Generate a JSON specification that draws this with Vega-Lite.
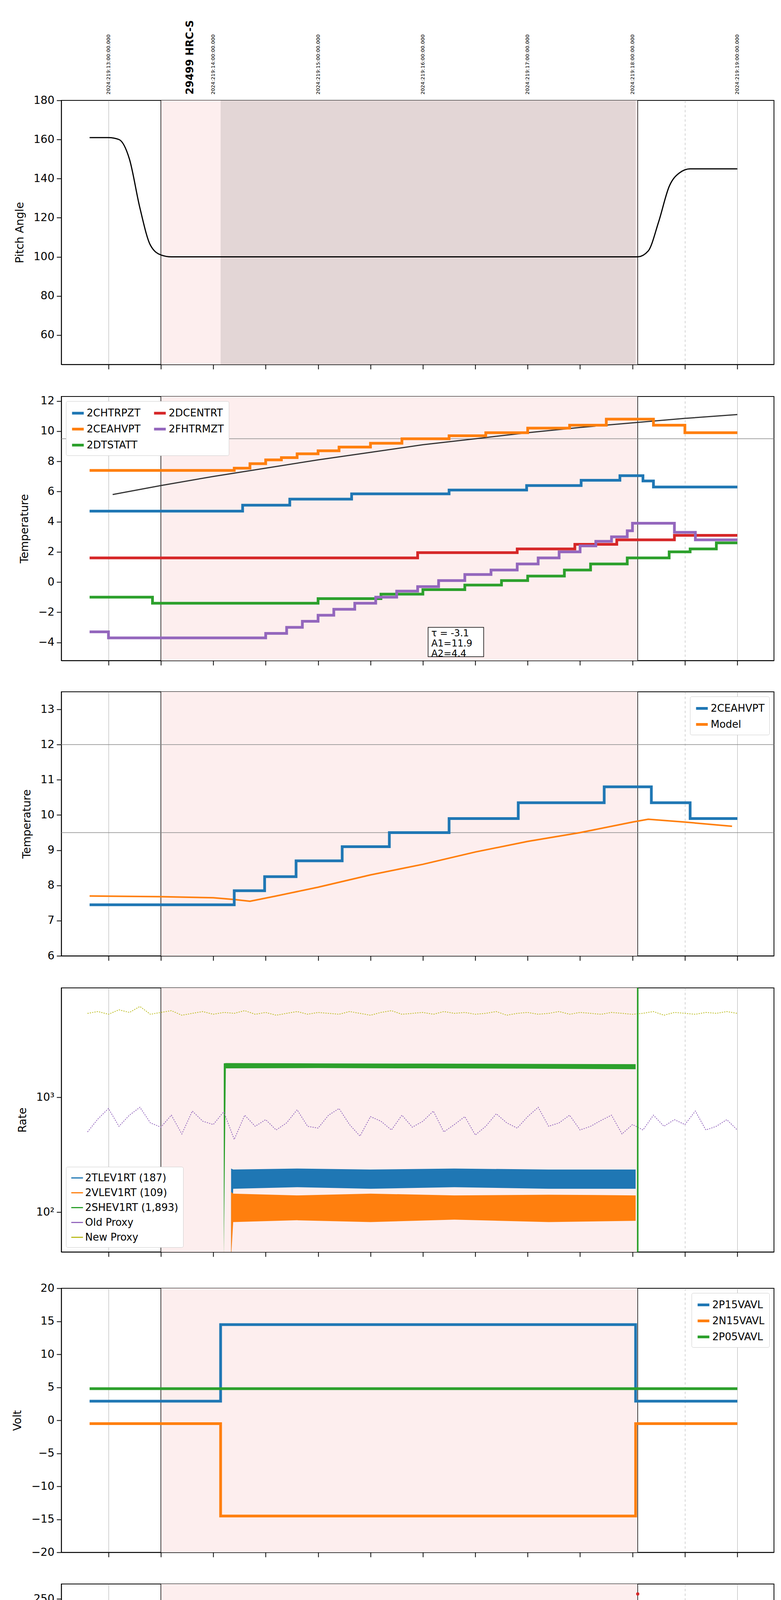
{
  "$schema": "https://vega.github.io/schema/vega-lite/v6.json",
  "background": "white",
  "padding": {"left": 30, "top": 50, "right": 5, "bottom": 5},
  "spacing": 64,
  "resolve": {"scale": {"color": "independent", "y": "independent"}, "legend": {"color": "independent"}},
  "datasets": {
    "bg": [{"a": 9.5, "b": 14.05}],
    "vl": [{"t": 9.5}, {"t": 14.05}],
    "obs": [{"a": 10.07, "b": 14.03}],
    "tops": [
      {"t": 9, "y": 183, "lab": "2024:219:13:00:00.000"},
      {"t": 10, "y": 183, "lab": "2024:219:14:00:00.000"},
      {"t": 11, "y": 183, "lab": "2024:219:15:00:00.000"},
      {"t": 12, "y": 183, "lab": "2024:219:16:00:00.000"},
      {"t": 13, "y": 183, "lab": "2024:219:17:00:00.000"},
      {"t": 14, "y": 183, "lab": "2024:219:18:00:00.000"},
      {"t": 15, "y": 183, "lab": "2024:219:19:00:00.000"}
    ],
    "pitch": [
      {"t": 8.82, "v": 161}, {"t": 9.0, "v": 161}, {"t": 9.1, "v": 160}, {"t": 9.2, "v": 150}, {"t": 9.3, "v": 125},
      {"t": 9.4, "v": 106}, {"t": 9.5, "v": 101}, {"t": 9.6, "v": 100}, {"t": 14.05, "v": 100}, {"t": 14.15, "v": 103},
      {"t": 14.25, "v": 118}, {"t": 14.35, "v": 136}, {"t": 14.45, "v": 143}, {"t": 14.55, "v": 145}, {"t": 15.0, "v": 145}
    ],
    "p2": [
      {"s": "2CHTRPZT", "t": 8.82, "v": 4.7}, {"s": "2CHTRPZT", "t": 10.28, "v": 5.1}, {"s": "2CHTRPZT", "t": 10.73, "v": 5.5},
      {"s": "2CHTRPZT", "t": 11.32, "v": 5.85}, {"s": "2CHTRPZT", "t": 12.25, "v": 6.1}, {"s": "2CHTRPZT", "t": 12.99, "v": 6.4},
      {"s": "2CHTRPZT", "t": 13.51, "v": 6.75}, {"s": "2CHTRPZT", "t": 13.88, "v": 7.05}, {"s": "2CHTRPZT", "t": 14.1, "v": 6.7},
      {"s": "2CHTRPZT", "t": 14.2, "v": 6.3}, {"s": "2CHTRPZT", "t": 15.0, "v": 6.3},
      {"s": "2CEAHVPT", "t": 8.82, "v": 7.4}, {"s": "2CEAHVPT", "t": 10.2, "v": 7.55}, {"s": "2CEAHVPT", "t": 10.35, "v": 7.85},
      {"s": "2CEAHVPT", "t": 10.5, "v": 8.1}, {"s": "2CEAHVPT", "t": 10.65, "v": 8.25}, {"s": "2CEAHVPT", "t": 10.8, "v": 8.5},
      {"s": "2CEAHVPT", "t": 11.0, "v": 8.7}, {"s": "2CEAHVPT", "t": 11.2, "v": 8.95}, {"s": "2CEAHVPT", "t": 11.5, "v": 9.2},
      {"s": "2CEAHVPT", "t": 11.8, "v": 9.5}, {"s": "2CEAHVPT", "t": 12.25, "v": 9.7}, {"s": "2CEAHVPT", "t": 12.6, "v": 9.9},
      {"s": "2CEAHVPT", "t": 13.0, "v": 10.2}, {"s": "2CEAHVPT", "t": 13.4, "v": 10.4}, {"s": "2CEAHVPT", "t": 13.75, "v": 10.8},
      {"s": "2CEAHVPT", "t": 14.2, "v": 10.4}, {"s": "2CEAHVPT", "t": 14.5, "v": 9.9}, {"s": "2CEAHVPT", "t": 15.0, "v": 9.9},
      {"s": "2DTSTATT", "t": 8.82, "v": -1.0}, {"s": "2DTSTATT", "t": 9.42, "v": -1.4}, {"s": "2DTSTATT", "t": 11.0, "v": -1.1},
      {"s": "2DTSTATT", "t": 11.6, "v": -0.8}, {"s": "2DTSTATT", "t": 12.0, "v": -0.5}, {"s": "2DTSTATT", "t": 12.4, "v": -0.2},
      {"s": "2DTSTATT", "t": 12.75, "v": 0.1}, {"s": "2DTSTATT", "t": 13.0, "v": 0.4}, {"s": "2DTSTATT", "t": 13.35, "v": 0.8},
      {"s": "2DTSTATT", "t": 13.6, "v": 1.2}, {"s": "2DTSTATT", "t": 13.95, "v": 1.6}, {"s": "2DTSTATT", "t": 14.35, "v": 2.0},
      {"s": "2DTSTATT", "t": 14.55, "v": 2.2}, {"s": "2DTSTATT", "t": 14.8, "v": 2.6}, {"s": "2DTSTATT", "t": 15.0, "v": 2.6},
      {"s": "2DCENTRT", "t": 8.82, "v": 1.6}, {"s": "2DCENTRT", "t": 11.95, "v": 1.95}, {"s": "2DCENTRT", "t": 12.9, "v": 2.2},
      {"s": "2DCENTRT", "t": 13.45, "v": 2.5}, {"s": "2DCENTRT", "t": 13.85, "v": 2.8}, {"s": "2DCENTRT", "t": 14.4, "v": 3.1},
      {"s": "2DCENTRT", "t": 15.0, "v": 3.1},
      {"s": "2FHTRMZT", "t": 8.82, "v": -3.3}, {"s": "2FHTRMZT", "t": 9.0, "v": -3.7}, {"s": "2FHTRMZT", "t": 10.5, "v": -3.4},
      {"s": "2FHTRMZT", "t": 10.7, "v": -3.0}, {"s": "2FHTRMZT", "t": 10.85, "v": -2.6}, {"s": "2FHTRMZT", "t": 11.0, "v": -2.2},
      {"s": "2FHTRMZT", "t": 11.15, "v": -1.8}, {"s": "2FHTRMZT", "t": 11.35, "v": -1.4}, {"s": "2FHTRMZT", "t": 11.55, "v": -1.0},
      {"s": "2FHTRMZT", "t": 11.75, "v": -0.6}, {"s": "2FHTRMZT", "t": 11.95, "v": -0.3}, {"s": "2FHTRMZT", "t": 12.15, "v": 0.1},
      {"s": "2FHTRMZT", "t": 12.4, "v": 0.5}, {"s": "2FHTRMZT", "t": 12.65, "v": 0.8}, {"s": "2FHTRMZT", "t": 12.9, "v": 1.2},
      {"s": "2FHTRMZT", "t": 13.1, "v": 1.6}, {"s": "2FHTRMZT", "t": 13.3, "v": 2.0}, {"s": "2FHTRMZT", "t": 13.5, "v": 2.4},
      {"s": "2FHTRMZT", "t": 13.65, "v": 2.7}, {"s": "2FHTRMZT", "t": 13.8, "v": 3.0}, {"s": "2FHTRMZT", "t": 13.95, "v": 3.4},
      {"s": "2FHTRMZT", "t": 14.0, "v": 3.9}, {"s": "2FHTRMZT", "t": 14.4, "v": 3.3}, {"s": "2FHTRMZT", "t": 14.6, "v": 2.8},
      {"s": "2FHTRMZT", "t": 15.0, "v": 2.8}
    ],
    "model2": [
      {"t": 9.04, "v": 5.8}, {"t": 9.5, "v": 6.4}, {"t": 10.0, "v": 7.0}, {"t": 10.5, "v": 7.55}, {"t": 11.0, "v": 8.1},
      {"t": 11.5, "v": 8.6}, {"t": 12.0, "v": 9.1}, {"t": 12.5, "v": 9.5}, {"t": 13.0, "v": 9.9}, {"t": 13.5, "v": 10.25},
      {"t": 14.0, "v": 10.55}, {"t": 14.5, "v": 10.85}, {"t": 15.0, "v": 11.1}
    ],
    "p3s": [
      {"s": "2CEAHVPT", "t": 8.82, "v": 7.45}, {"s": "2CEAHVPT", "t": 10.2, "v": 7.85}, {"s": "2CEAHVPT", "t": 10.49, "v": 8.25},
      {"s": "2CEAHVPT", "t": 10.79, "v": 8.7}, {"s": "2CEAHVPT", "t": 11.23, "v": 9.1}, {"s": "2CEAHVPT", "t": 11.68, "v": 9.5},
      {"s": "2CEAHVPT", "t": 12.25, "v": 9.9}, {"s": "2CEAHVPT", "t": 12.91, "v": 10.35}, {"s": "2CEAHVPT", "t": 13.73, "v": 10.8},
      {"s": "2CEAHVPT", "t": 14.18, "v": 10.35}, {"s": "2CEAHVPT", "t": 14.55, "v": 9.9}, {"s": "2CEAHVPT", "t": 15.0, "v": 9.9}
    ],
    "p3m": [
      {"s": "Model", "t": 8.82, "v": 7.7}, {"s": "Model", "t": 9.5, "v": 7.68}, {"s": "Model", "t": 10.0, "v": 7.65},
      {"s": "Model", "t": 10.2, "v": 7.6}, {"s": "Model", "t": 10.35, "v": 7.55}, {"s": "Model", "t": 10.6, "v": 7.7},
      {"s": "Model", "t": 11.0, "v": 7.95}, {"s": "Model", "t": 11.5, "v": 8.3}, {"s": "Model", "t": 12.0, "v": 8.6},
      {"s": "Model", "t": 12.5, "v": 8.95}, {"s": "Model", "t": 13.0, "v": 9.25}, {"s": "Model", "t": 13.5, "v": 9.5},
      {"s": "Model", "t": 14.0, "v": 9.8}, {"s": "Model", "t": 14.15, "v": 9.88}, {"s": "Model", "t": 14.5, "v": 9.8},
      {"s": "Model", "t": 14.95, "v": 9.68}
    ],
    "prox": [
      {"t": 8.8, "o": 500, "n": 5400}, {"t": 8.9, "o": 650, "n": 5600}, {"t": 9.0, "o": 800, "n": 5300}, {"t": 9.1, "o": 560, "n": 5800},
      {"t": 9.2, "o": 700, "n": 5500}, {"t": 9.3, "o": 820, "n": 6200}, {"t": 9.4, "o": 600, "n": 5300}, {"t": 9.5, "o": 550, "n": 5500},
      {"t": 9.6, "o": 700, "n": 5700}, {"t": 9.7, "o": 480, "n": 5200}, {"t": 9.8, "o": 760, "n": 5400}, {"t": 9.9, "o": 620, "n": 5600},
      {"t": 10.0, "o": 580, "n": 5300}, {"t": 10.1, "o": 750, "n": 5500}, {"t": 10.2, "o": 430, "n": 5400}, {"t": 10.3, "o": 700, "n": 5700},
      {"t": 10.4, "o": 560, "n": 5300}, {"t": 10.5, "o": 640, "n": 5500}, {"t": 10.6, "o": 520, "n": 5200}, {"t": 10.7, "o": 600, "n": 5400},
      {"t": 10.8, "o": 780, "n": 5600}, {"t": 10.9, "o": 560, "n": 5300}, {"t": 11.0, "o": 540, "n": 5500}, {"t": 11.1, "o": 700, "n": 5400},
      {"t": 11.2, "o": 800, "n": 5300}, {"t": 11.3, "o": 580, "n": 5600}, {"t": 11.4, "o": 460, "n": 5400}, {"t": 11.5, "o": 680, "n": 5200},
      {"t": 11.6, "o": 620, "n": 5500}, {"t": 11.7, "o": 520, "n": 5700}, {"t": 11.8, "o": 700, "n": 5300}, {"t": 11.9, "o": 550, "n": 5400},
      {"t": 12.0, "o": 620, "n": 5500}, {"t": 12.1, "o": 760, "n": 5300}, {"t": 12.2, "o": 500, "n": 5600}, {"t": 12.3, "o": 580, "n": 5400},
      {"t": 12.4, "o": 680, "n": 5500}, {"t": 12.5, "o": 470, "n": 5300}, {"t": 12.6, "o": 560, "n": 5400}, {"t": 12.7, "o": 720, "n": 5600},
      {"t": 12.8, "o": 600, "n": 5200}, {"t": 12.9, "o": 540, "n": 5400}, {"t": 13.0, "o": 680, "n": 5500}, {"t": 13.1, "o": 820, "n": 5300},
      {"t": 13.2, "o": 560, "n": 5400}, {"t": 13.3, "o": 600, "n": 5600}, {"t": 13.4, "o": 700, "n": 5300}, {"t": 13.5, "o": 520, "n": 5500},
      {"t": 13.6, "o": 560, "n": 5400}, {"t": 13.7, "o": 630, "n": 5300}, {"t": 13.8, "o": 700, "n": 5500}, {"t": 13.9, "o": 480, "n": 5400},
      {"t": 14.0, "o": 580, "n": 5300}, {"t": 14.1, "o": 520, "n": 5400}, {"t": 14.2, "o": 700, "n": 5600}, {"t": 14.3, "o": 560, "n": 5200},
      {"t": 14.4, "o": 640, "n": 5500}, {"t": 14.5, "o": 580, "n": 5400}, {"t": 14.6, "o": 760, "n": 5300}, {"t": 14.7, "o": 520, "n": 5500},
      {"t": 14.8, "o": 560, "n": 5400}, {"t": 14.9, "o": 640, "n": 5600}, {"t": 15.0, "o": 520, "n": 5400}
    ],
    "bands": [
      {"s": "2SHEV1RT (1,893)", "t": 10.1, "lo": 40, "hi": 1980}, {"s": "2SHEV1RT (1,893)", "t": 10.12, "lo": 1790, "hi": 1990},
      {"s": "2SHEV1RT (1,893)", "t": 11.0, "lo": 1800, "hi": 1980}, {"s": "2SHEV1RT (1,893)", "t": 12.0, "lo": 1790, "hi": 1970},
      {"s": "2SHEV1RT (1,893)", "t": 13.0, "lo": 1780, "hi": 1960}, {"s": "2SHEV1RT (1,893)", "t": 14.03, "lo": 1760, "hi": 1950},
      {"s": "2TLEV1RT (187)", "t": 10.17, "lo": 40, "hi": 240}, {"s": "2TLEV1RT (187)", "t": 10.19, "lo": 160, "hi": 235},
      {"s": "2TLEV1RT (187)", "t": 10.8, "lo": 165, "hi": 240}, {"s": "2TLEV1RT (187)", "t": 11.5, "lo": 160, "hi": 235},
      {"s": "2TLEV1RT (187)", "t": 12.3, "lo": 165, "hi": 240}, {"s": "2TLEV1RT (187)", "t": 13.2, "lo": 160, "hi": 235},
      {"s": "2TLEV1RT (187)", "t": 14.03, "lo": 160, "hi": 235},
      {"s": "2VLEV1RT (109)", "t": 10.17, "lo": 40, "hi": 150}, {"s": "2VLEV1RT (109)", "t": 10.19, "lo": 82, "hi": 145},
      {"s": "2VLEV1RT (109)", "t": 10.8, "lo": 85, "hi": 140}, {"s": "2VLEV1RT (109)", "t": 11.5, "lo": 82, "hi": 145},
      {"s": "2VLEV1RT (109)", "t": 12.3, "lo": 86, "hi": 140}, {"s": "2VLEV1RT (109)", "t": 13.2, "lo": 82, "hi": 142},
      {"s": "2VLEV1RT (109)", "t": 14.03, "lo": 84, "hi": 140}
    ],
    "p5": [
      {"s": "2P15VAVL", "t": 8.82, "v": 2.9}, {"s": "2P15VAVL", "t": 10.07, "v": 14.5}, {"s": "2P15VAVL", "t": 14.03, "v": 2.9}, {"s": "2P15VAVL", "t": 15.0, "v": 2.9},
      {"s": "2N15VAVL", "t": 8.82, "v": -0.5}, {"s": "2N15VAVL", "t": 10.07, "v": -14.5}, {"s": "2N15VAVL", "t": 14.03, "v": -0.5}, {"s": "2N15VAVL", "t": 15.0, "v": -0.5},
      {"s": "2P05VAVL", "t": 8.82, "v": 4.8}, {"s": "2P05VAVL", "t": 15.0, "v": 4.8}
    ],
    "p6pts": [
      {"s": "2SPHBLV", "t": 10.1, "v": 118}, {"s": "2SPHBLV", "t": 10.12, "v": 104}, {"s": "2SPHBLV", "t": 10.14, "v": 96},
      {"s": "2SPHBLV", "t": 10.16, "v": 89}, {"s": "2SPHBLV", "t": 10.18, "v": 84}, {"s": "2SPHBLV", "t": 10.2, "v": 80},
      {"s": "2SPHBLV", "t": 10.22, "v": 78},
      {"s": "2SPHVLV", "t": 10.1, "v": 127}, {"s": "2SPHVLV", "t": 10.15, "v": 127}, {"s": "2SPHVLV", "t": 10.2, "v": 127},
      {"s": "2SPHVLV", "t": 10.3, "v": 127}, {"s": "2SPHVLV", "t": 10.4, "v": 127}, {"s": "2SPHVLV", "t": 10.5, "v": 127},
      {"s": "2SPHVLV", "t": 10.6, "v": 127}, {"s": "2SPHVLV", "t": 10.14, "v": 98}, {"s": "2SPHVLV", "t": 10.17, "v": 88},
      {"s": "2SPHVLV", "t": 10.2, "v": 80}, {"s": "2SPHVLV", "t": 10.24, "v": 74},
      {"s": "2IMHVLV", "t": 10.1, "v": 100},
      {"s": "2IMHBLV", "t": 14.05, "v": 255}
    ],
    "p6ln": [
      {"s": "2SPHBLV", "t": 10.22, "v": 77}, {"s": "2SPHBLV", "t": 14.05, "v": 77},
      {"s": "2SPHVLV", "t": 10.24, "v": 71}, {"s": "2SPHVLV", "t": 14.05, "v": 71}
    ],
    "p7": [
      {"s": "2SPINATM", "t": 10.1, "v": 3.2}, {"s": "2SPINATM", "t": 10.27, "v": 3.2}, {"s": "2SPINATM", "t": 10.28, "v": 0}, {"s": "2SPINATM", "t": 10.29, "v": 3.2},
      {"s": "2SPINATM", "t": 10.48, "v": 3.2}, {"s": "2SPINATM", "t": 10.49, "v": 0}, {"s": "2SPINATM", "t": 10.5, "v": 3.2},
      {"s": "2SPINATM", "t": 10.58, "v": 3.2}, {"s": "2SPINATM", "t": 10.59, "v": 0}, {"s": "2SPINATM", "t": 10.6, "v": 3.2},
      {"s": "2SPINATM", "t": 11.8, "v": 3.2}, {"s": "2SPINATM", "t": 11.801, "v": 3.5}, {"s": "2SPINATM", "t": 12.9, "v": 3.5},
      {"s": "2SPINATM", "t": 12.901, "v": 4.0}, {"s": "2SPINATM", "t": 14.05, "v": 4.0},
      {"s": "2SPHVATM", "t": 10.1, "v": 16.0}, {"s": "2SPHVATM", "t": 10.25, "v": 16.2}, {"s": "2SPHVATM", "t": 10.33, "v": 16.3},
      {"s": "2SPHVATM", "t": 10.34, "v": 8.5}, {"s": "2SPHVATM", "t": 10.36, "v": 16.5}, {"s": "2SPHVATM", "t": 10.45, "v": 16.6},
      {"s": "2SPHVATM", "t": 10.46, "v": 9.0}, {"s": "2SPHVATM", "t": 10.48, "v": 16.8}, {"s": "2SPHVATM", "t": 10.55, "v": 17.0},
      {"s": "2SPHVATM", "t": 10.56, "v": 9.5}, {"s": "2SPHVATM", "t": 10.58, "v": 17.1}, {"s": "2SPHVATM", "t": 10.8, "v": 17.6},
      {"s": "2SPHVATM", "t": 11.0, "v": 18.0}, {"s": "2SPHVATM", "t": 11.3, "v": 18.5}, {"s": "2SPHVATM", "t": 11.6, "v": 19.0},
      {"s": "2SPHVATM", "t": 12.0, "v": 19.5}, {"s": "2SPHVATM", "t": 12.5, "v": 20.0}, {"s": "2SPHVATM", "t": 13.0, "v": 20.6},
      {"s": "2SPHVATM", "t": 13.4, "v": 21.0}, {"s": "2SPHVATM", "t": 13.8, "v": 21.7}, {"s": "2SPHVATM", "t": 14.0, "v": 22.3},
      {"s": "2SPHVATM", "t": 14.05, "v": 22.3},
      {"s": "2IMINATM", "t": 10.1, "v": 0}, {"s": "2IMINATM", "t": 10.12, "v": 1.3}, {"s": "2IMINATM", "t": 10.27, "v": 1.3},
      {"s": "2IMINATM", "t": 10.28, "v": 0}, {"s": "2IMINATM", "t": 10.3, "v": 1.3}, {"s": "2IMINATM", "t": 10.48, "v": 1.3},
      {"s": "2IMINATM", "t": 10.49, "v": 0}, {"s": "2IMINATM", "t": 10.5, "v": 1.3}, {"s": "2IMINATM", "t": 10.58, "v": 1.3},
      {"s": "2IMINATM", "t": 10.59, "v": 0}, {"s": "2IMINATM", "t": 10.6, "v": 1.3}, {"s": "2IMINATM", "t": 12.25, "v": 1.3},
      {"s": "2IMINATM", "t": 12.251, "v": 1.7}, {"s": "2IMINATM", "t": 13.5, "v": 1.7}, {"s": "2IMINATM", "t": 13.501, "v": 2.1},
      {"s": "2IMINATM", "t": 14.05, "v": 2.1},
      {"s": "2IMHVATM", "t": 10.1, "v": 0}, {"s": "2IMHVATM", "t": 10.11, "v": 15.3}, {"s": "2IMHVATM", "t": 12.0, "v": 15.5},
      {"s": "2IMHVATM", "t": 12.001, "v": 16.3}, {"s": "2IMHVATM", "t": 13.0, "v": 16.4}, {"s": "2IMHVATM", "t": 13.001, "v": 17.3},
      {"s": "2IMHVATM", "t": 13.7, "v": 17.3}, {"s": "2IMHVATM", "t": 13.701, "v": 17.8}, {"s": "2IMHVATM", "t": 14.05, "v": 17.8},
      {"s": "2IMHVATM", "t": 14.06, "v": 24}, {"s": "2IMHVATM", "t": 14.07, "v": -1}
    ],
    "p8": [
      {"s": "2FHTRMZT", "t": 8.82, "v": -3.3}, {"s": "2FHTRMZT", "t": 9.0, "v": -3.3}, {"s": "2FHTRMZT", "t": 9.01, "v": -3.7},
      {"s": "2FHTRMZT", "t": 10.35, "v": -3.7}, {"s": "2FHTRMZT", "t": 10.5, "v": -3.3}, {"s": "2FHTRMZT", "t": 10.7, "v": -2.5},
      {"s": "2FHTRMZT", "t": 10.9, "v": -2.0}, {"s": "2FHTRMZT", "t": 11.3, "v": -1.0}, {"s": "2FHTRMZT", "t": 11.7, "v": 0.0},
      {"s": "2FHTRMZT", "t": 12.2, "v": 1.0}, {"s": "2FHTRMZT", "t": 12.6, "v": 1.6}, {"s": "2FHTRMZT", "t": 13.0, "v": 2.2},
      {"s": "2FHTRMZT", "t": 13.5, "v": 3.1}, {"s": "2FHTRMZT", "t": 14.0, "v": 4.1}, {"s": "2FHTRMZT", "t": 14.3, "v": 3.6},
      {"s": "2FHTRMZT", "t": 14.6, "v": 3.2}, {"s": "2FHTRMZT", "t": 14.8, "v": 2.8}, {"s": "2FHTRMZT", "t": 15.0, "v": 2.8},
      {"s": "2FRADPYT", "t": 10.5, "v": -5.0}, {"s": "2FRADPYT", "t": 10.62, "v": -4.6}, {"s": "2FRADPYT", "t": 10.8, "v": -4.0},
      {"s": "2FRADPYT", "t": 11.0, "v": -3.5}, {"s": "2FRADPYT", "t": 11.2, "v": -3.0}, {"s": "2FRADPYT", "t": 11.4, "v": -2.5},
      {"s": "2FRADPYT", "t": 11.6, "v": -2.0}, {"s": "2FRADPYT", "t": 11.85, "v": -1.5}, {"s": "2FRADPYT", "t": 12.1, "v": -1.0},
      {"s": "2FRADPYT", "t": 12.35, "v": -0.6}, {"s": "2FRADPYT", "t": 12.6, "v": -0.2}, {"s": "2FRADPYT", "t": 12.85, "v": 0.2},
      {"s": "2FRADPYT", "t": 13.1, "v": 0.5}, {"s": "2FRADPYT", "t": 13.4, "v": 0.8}, {"s": "2FRADPYT", "t": 13.7, "v": 1.1},
      {"s": "2FRADPYT", "t": 13.9, "v": 1.3}, {"s": "2FRADPYT", "t": 14.2, "v": 1.3}, {"s": "2FRADPYT", "t": 14.35, "v": 0.6},
      {"s": "2FRADPYT", "t": 14.7, "v": 0.1}, {"s": "2FRADPYT", "t": 15.0, "v": 0.1},
      {"s": "2FEPRATM", "t": 10.1, "v": -4.5}, {"s": "2FEPRATM", "t": 10.3, "v": -3.5}, {"s": "2FEPRATM", "t": 10.5, "v": -2.5},
      {"s": "2FEPRATM", "t": 10.8, "v": -1.2}, {"s": "2FEPRATM", "t": 11.0, "v": -0.6}, {"s": "2FEPRATM", "t": 11.3, "v": 0.0},
      {"s": "2FEPRATM", "t": 11.6, "v": 0.6}, {"s": "2FEPRATM", "t": 11.9, "v": 1.2}, {"s": "2FEPRATM", "t": 12.2, "v": 1.9},
      {"s": "2FEPRATM", "t": 12.5, "v": 2.5}, {"s": "2FEPRATM", "t": 12.8, "v": 3.0}, {"s": "2FEPRATM", "t": 13.1, "v": 3.5},
      {"s": "2FEPRATM", "t": 13.4, "v": 4.1}, {"s": "2FEPRATM", "t": 13.7, "v": 4.8}, {"s": "2FEPRATM", "t": 13.9, "v": 5.5},
      {"s": "2FEPRATM", "t": 14.0, "v": 5.8},
      {"s": "2FE00ATM", "t": 10.1, "v": -4.8}, {"s": "2FE00ATM", "t": 10.27, "v": -4.5}, {"s": "2FE00ATM", "t": 10.28, "v": 6},
      {"s": "2FE00ATM", "t": 10.3, "v": 6}, {"s": "2FE00ATM", "t": 10.31, "v": -4.0}, {"s": "2FE00ATM", "t": 10.44, "v": -3.5},
      {"s": "2FE00ATM", "t": 10.45, "v": 6}, {"s": "2FE00ATM", "t": 10.52, "v": 6}, {"s": "2FE00ATM", "t": 10.53, "v": -3.0},
      {"s": "2FE00ATM", "t": 10.58, "v": -3.0}, {"s": "2FE00ATM", "t": 10.59, "v": 6}, {"s": "2FE00ATM", "t": 10.61, "v": 6},
      {"s": "2FE00ATM", "t": 10.62, "v": -2.5}, {"s": "2FE00ATM", "t": 11.0, "v": -2.0}, {"s": "2FE00ATM", "t": 11.5, "v": -1.0},
      {"s": "2FE00ATM", "t": 12.0, "v": 0.0}, {"s": "2FE00ATM", "t": 12.5, "v": 1.0}, {"s": "2FE00ATM", "t": 12.7, "v": 1.5},
      {"s": "2FE00ATM", "t": 13.0, "v": 2.3}, {"s": "2FE00ATM", "t": 13.5, "v": 3.3}, {"s": "2FE00ATM", "t": 13.9, "v": 4.0},
      {"s": "2FE00ATM", "t": 14.05, "v": 4.2}, {"s": "2FE00ATM", "t": 14.06, "v": 6}, {"s": "2FE00ATM", "t": 14.07, "v": -6}
    ]
  },
  "vconcat": [
    {
      "width": 1825, "height": 676,
      "layer": [
        {"data": {"name": "bg"}, "mark": {"type": "rect", "color": "#fdeeee"},
         "encoding": {"x": {"field": "a", "type": "quantitative", "scale": {"domain": [8.55, 15.35], "nice": false},
           "axis": {"values": [9, 9.5, 10, 10.5, 11, 11.5, 12, 12.5, 13, 13.5, 14, 14.5, 15], "labels": false, "title": null, "tickSize": 12, "grid": true, "gridColor": "#aaa", "gridDash": {"condition": {"test": "datum.value % 1 == 0", "value": []}, "value": [6, 6]}}},
           "x2": {"field": "b"}}},
        {"data": {"name": "obs"}, "mark": {"type": "rect", "color": "#e3d6d6"},
         "encoding": {"x": {"field": "a", "type": "quantitative"}, "x2": {"field": "b"}}},
        {"data": {"name": "vl"}, "mark": {"type": "rule", "color": "black", "strokeWidth": 1.5},
         "encoding": {"x": {"field": "t", "type": "quantitative"}}},
        {"data": {"name": "pitch"}, "mark": {"type": "line", "color": "black", "strokeWidth": 3, "interpolate": "monotone"},
         "encoding": {"x": {"field": "t", "type": "quantitative"},
           "y": {"field": "v", "type": "quantitative", "scale": {"domain": [45, 180], "nice": false}, "axis": {"values": [60, 80, 100, 120, 140, 160, 180], "title": "Pitch Angle"}}}},
        {"data": {"name": "tops"}, "mark": {"type": "text", "angle": 270, "align": "left", "baseline": "middle", "fontSize": 13, "clip": false},
         "encoding": {"x": {"field": "t", "type": "quantitative"}, "y": {"field": "y", "type": "quantitative"}, "text": {"field": "lab"}}},
        {"data": {"values": [{"t": 9.78, "y": 183, "lab": "29499 HRC-S"}]}, "mark": {"type": "text", "angle": 270, "align": "left", "baseline": "middle", "fontSize": 26, "fontWeight": "bold", "clip": false},
         "encoding": {"x": {"field": "t", "type": "quantitative"}, "y": {"field": "y", "type": "quantitative"}, "text": {"field": "lab"}}}
      ]
    },
    {
      "width": 1825, "height": 676,
      "layer": [
        {"data": {"name": "bg"}, "mark": {"type": "rect", "color": "#fdeeee"},
         "encoding": {"x": {"field": "a", "type": "quantitative", "scale": {"domain": [8.55, 15.35], "nice": false},
           "axis": {"values": [9, 9.5, 10, 10.5, 11, 11.5, 12, 12.5, 13, 13.5, 14, 14.5, 15], "labels": false, "title": null, "tickSize": 12, "grid": true, "gridColor": "#aaa", "gridDash": {"condition": {"test": "datum.value % 1 == 0", "value": []}, "value": [6, 6]}}},
           "x2": {"field": "b"}}},
        {"data": {"name": "vl"}, "mark": {"type": "rule", "color": "black", "strokeWidth": 1.5},
         "encoding": {"x": {"field": "t", "type": "quantitative"}}},
        {"data": {"values": [{"v": 9.5}]}, "mark": {"type": "rule", "color": "#888", "strokeWidth": 1.5},
         "encoding": {"y": {"field": "v", "type": "quantitative", "scale": {"domain": [-5.2, 12.3], "nice": false}}}},
        {"data": {"name": "model2"}, "mark": {"type": "line", "color": "#333", "strokeWidth": 3},
         "encoding": {"x": {"field": "t", "type": "quantitative"}, "y": {"field": "v", "type": "quantitative"}}},
        {"data": {"name": "p2"}, "mark": {"type": "line", "strokeWidth": 7, "interpolate": "step-after"},
         "encoding": {"x": {"field": "t", "type": "quantitative"},
           "y": {"field": "v", "type": "quantitative", "scale": {"domain": [-5.2, 12.3], "nice": false}, "axis": {"values": [-4, -2, 0, 2, 4, 6, 8, 10, 12], "title": "Temperature"}},
           "color": {"field": "s", "type": "nominal", "scale": {"domain": ["2CHTRPZT", "2DCENTRT", "2CEAHVPT", "2FHTRMZT", "2DTSTATT"], "range": ["#1f77b4", "#d62728", "#ff7f0e", "#9467bd", "#2ca02c"]},
             "legend": {"orient": "top-left", "columns": 2, "title": null, "direction": "horizontal", "columnPadding": 20}}}},
        {"data": {"values": [{"a": 12.05, "b": 12.58, "y1": -4.95, "y2": -3.0}]}, "mark": {"type": "rect", "fill": "white", "stroke": "black", "strokeWidth": 1.5},
         "encoding": {"x": {"field": "a", "type": "quantitative"}, "x2": {"field": "b"}, "y": {"field": "y1", "type": "quantitative"}, "y2": {"field": "y2"}}},
        {"data": {"values": [{"t": 12.08, "v": -3.1, "lab": ["τ = -3.1", "A1=11.9", "A2=4.4"]}]}, "mark": {"type": "text", "align": "left", "baseline": "top", "fontSize": 24},
         "encoding": {"x": {"field": "t", "type": "quantitative"}, "y": {"field": "v", "type": "quantitative"}, "text": {"field": "lab"}}}
      ]
    },
    {
      "width": 1825, "height": 676,
      "layer": [
        {"data": {"name": "bg"}, "mark": {"type": "rect", "color": "#fdeeee"},
         "encoding": {"x": {"field": "a", "type": "quantitative", "scale": {"domain": [8.55, 15.35], "nice": false},
           "axis": {"values": [9, 9.5, 10, 10.5, 11, 11.5, 12, 12.5, 13, 13.5, 14, 14.5, 15], "labels": false, "title": null, "tickSize": 12, "grid": true, "gridColor": "#aaa", "gridDash": {"condition": {"test": "datum.value % 1 == 0", "value": []}, "value": [6, 6]}}},
           "x2": {"field": "b"}}},
        {"data": {"name": "vl"}, "mark": {"type": "rule", "color": "black", "strokeWidth": 1.5},
         "encoding": {"x": {"field": "t", "type": "quantitative"}}},
        {"data": {"values": [{"v": 9.5}, {"v": 12}]}, "mark": {"type": "rule", "color": "#888", "strokeWidth": 1.5},
         "encoding": {"y": {"field": "v", "type": "quantitative", "scale": {"domain": [6, 13.5], "nice": false}}}},
        {"data": {"name": "p3m"}, "mark": {"type": "line", "strokeWidth": 4},
         "encoding": {"x": {"field": "t", "type": "quantitative"}, "y": {"field": "v", "type": "quantitative", "scale": {"domain": [6, 13.5], "nice": false}},
           "color": {"field": "s", "type": "nominal", "scale": {"domain": ["2CEAHVPT", "Model"], "range": ["#1f77b4", "#ff7f0e"]}, "legend": {"orient": "top-right", "title": null}}}},
        {"data": {"name": "p3s"}, "mark": {"type": "line", "strokeWidth": 7, "interpolate": "step-after"},
         "encoding": {"x": {"field": "t", "type": "quantitative"},
           "y": {"field": "v", "type": "quantitative", "scale": {"domain": [6, 13.5], "nice": false}, "axis": {"values": [6, 7, 8, 9, 10, 11, 12, 13], "format": "d", "title": "Temperature"}},
           "color": {"field": "s", "type": "nominal"}}}
      ]
    },
    {
      "width": 1825, "height": 676,
      "layer": [
        {"data": {"name": "bg"}, "mark": {"type": "rect", "color": "#fdeeee"},
         "encoding": {"x": {"field": "a", "type": "quantitative", "scale": {"domain": [8.55, 15.35], "nice": false},
           "axis": {"values": [9, 9.5, 10, 10.5, 11, 11.5, 12, 12.5, 13, 13.5, 14, 14.5, 15], "labels": false, "title": null, "tickSize": 12, "grid": true, "gridColor": "#aaa", "gridDash": {"condition": {"test": "datum.value % 1 == 0", "value": []}, "value": [6, 6]}}},
           "x2": {"field": "b"}}},
        {"data": {"name": "vl"}, "mark": {"type": "rule", "color": "black", "strokeWidth": 1.5},
         "encoding": {"x": {"field": "t", "type": "quantitative"}}},
        {"data": {"name": "bands"}, "mark": {"type": "area", "opacity": 1, "clip": true},
         "encoding": {"x": {"field": "t", "type": "quantitative"},
           "y": {"field": "hi", "type": "quantitative", "scale": {"type": "log", "domain": [45, 9000], "nice": false}, "axis": {"values": [100, 1000], "labelExpr": "datum.value == 100 ? '10²' : '10³'", "title": "Rate"}},
           "y2": {"field": "lo"},
           "color": {"field": "s", "type": "nominal", "scale": {"domain": ["2TLEV1RT (187)", "2VLEV1RT (109)", "2SHEV1RT (1,893)", "Old Proxy", "New Proxy"], "range": ["#1f77b4", "#ff7f0e", "#2ca02c", "#9467bd", "#bcbd22"]},
             "legend": {"orient": "bottom-left", "title": null, "symbolType": "stroke", "symbolStrokeWidth": 3}}}},
        {"data": {"name": "prox"}, "transform": [{"fold": ["o", "n"], "as": ["k", "val"]}, {"calculate": "datum.k == 'o' ? 'Old Proxy' : 'New Proxy'", "as": "s"}],
         "mark": {"type": "line", "strokeWidth": 2, "strokeDash": [3, 3]},
         "encoding": {"x": {"field": "t", "type": "quantitative"}, "y": {"field": "val", "type": "quantitative"}, "color": {"field": "s", "type": "nominal"}}},
        {"data": {"values": [{"t": 14.05}]}, "mark": {"type": "rule", "color": "#2ca02c", "strokeWidth": 4},
         "encoding": {"x": {"field": "t", "type": "quantitative"}}}
      ]
    },
    {
      "width": 1825, "height": 676,
      "layer": [
        {"data": {"name": "bg"}, "mark": {"type": "rect", "color": "#fdeeee"},
         "encoding": {"x": {"field": "a", "type": "quantitative", "scale": {"domain": [8.55, 15.35], "nice": false},
           "axis": {"values": [9, 9.5, 10, 10.5, 11, 11.5, 12, 12.5, 13, 13.5, 14, 14.5, 15], "labels": false, "title": null, "tickSize": 12, "grid": true, "gridColor": "#aaa", "gridDash": {"condition": {"test": "datum.value % 1 == 0", "value": []}, "value": [6, 6]}}},
           "x2": {"field": "b"}}},
        {"data": {"name": "vl"}, "mark": {"type": "rule", "color": "black", "strokeWidth": 1.5},
         "encoding": {"x": {"field": "t", "type": "quantitative"}}},
        {"data": {"name": "p5"}, "mark": {"type": "line", "strokeWidth": 7, "interpolate": "step-after"},
         "encoding": {"x": {"field": "t", "type": "quantitative"},
           "y": {"field": "v", "type": "quantitative", "scale": {"domain": [-20, 20], "nice": false}, "axis": {"values": [-20, -15, -10, -5, 0, 5, 10, 15, 20], "title": "Volt"}},
           "color": {"field": "s", "type": "nominal", "scale": {"domain": ["2P15VAVL", "2N15VAVL", "2P05VAVL"], "range": ["#1f77b4", "#ff7f0e", "#2ca02c"]}, "legend": {"orient": "top-right", "title": null}}}}
      ]
    },
    {
      "width": 1825, "height": 676,
      "layer": [
        {"data": {"name": "bg"}, "mark": {"type": "rect", "color": "#fdeeee"},
         "encoding": {"x": {"field": "a", "type": "quantitative", "scale": {"domain": [8.55, 15.35], "nice": false},
           "axis": {"values": [9, 9.5, 10, 10.5, 11, 11.5, 12, 12.5, 13, 13.5, 14, 14.5, 15], "labels": false, "title": null, "tickSize": 12, "grid": true, "gridColor": "#aaa", "gridDash": {"condition": {"test": "datum.value % 1 == 0", "value": []}, "value": [6, 6]}}},
           "x2": {"field": "b"}}},
        {"data": {"name": "vl"}, "mark": {"type": "rule", "color": "black", "strokeWidth": 1.5},
         "encoding": {"x": {"field": "t", "type": "quantitative"}}},
        {"data": {"name": "p6ln"}, "mark": {"type": "line", "strokeWidth": 10},
         "encoding": {"x": {"field": "t", "type": "quantitative"}, "y": {"field": "v", "type": "quantitative", "scale": {"domain": [0, 265], "nice": false}},
           "color": {"field": "s", "type": "nominal", "legend": null}}},
        {"data": {"name": "p6pts"}, "mark": {"type": "circle", "size": 70, "opacity": 1},
         "encoding": {"x": {"field": "t", "type": "quantitative"},
           "y": {"field": "v", "type": "quantitative", "scale": {"domain": [0, 265], "nice": false}, "axis": {"values": [0, 50, 100, 150, 200, 250], "title": "HV Monitor"}},
           "color": {"field": "s", "type": "nominal", "scale": {"domain": ["2SPHBLV", "2SPHVLV", "2IMHVLV", "2IMHBLV"], "range": ["#1f77b4", "#ff7f0e", "#2ca02c", "#d62728"]}, "legend": {"orient": "top-right", "title": null, "symbolType": "circle", "symbolSize": 80, "symbolStrokeWidth": 0}}}}
      ]
    },
    {
      "width": 1825, "height": 676,
      "layer": [
        {"data": {"name": "bg"}, "mark": {"type": "rect", "color": "#fdeeee"},
         "encoding": {"x": {"field": "a", "type": "quantitative", "scale": {"domain": [8.55, 15.35], "nice": false},
           "axis": {"values": [9, 9.5, 10, 10.5, 11, 11.5, 12, 12.5, 13, 13.5, 14, 14.5, 15], "labels": false, "title": null, "tickSize": 12, "grid": true, "gridColor": "#aaa", "gridDash": {"condition": {"test": "datum.value % 1 == 0", "value": []}, "value": [6, 6]}}},
           "x2": {"field": "b"}}},
        {"data": {"name": "vl"}, "mark": {"type": "rule", "color": "black", "strokeWidth": 1.5},
         "encoding": {"x": {"field": "t", "type": "quantitative"}}},
        {"data": {"name": "p7"}, "mark": {"type": "line", "strokeWidth": 7, "clip": true},
         "encoding": {"x": {"field": "t", "type": "quantitative"},
           "y": {"field": "v", "type": "quantitative", "scale": {"domain": [-0.3, 23], "nice": false}, "axis": {"values": [0, 5, 10, 15, 20], "title": "Detector Temp"}},
           "color": {"field": "s", "type": "nominal", "scale": {"domain": ["2SPINATM", "2SPHVATM", "2IMINATM", "2IMHVATM"], "range": ["#1f77b4", "#ff7f0e", "#2ca02c", "#d62728"]}, "legend": {"orient": "top-right", "title": null}}}}
      ]
    },
    {
      "width": 1825, "height": 676,
      "layer": [
        {"data": {"name": "bg"}, "mark": {"type": "rect", "color": "#fdeeee"},
         "encoding": {"x": {"field": "a", "type": "quantitative", "scale": {"domain": [8.55, 15.35], "nice": false},
           "axis": {"values": [9, 9.5, 10, 10.5, 11, 11.5, 12, 12.5, 13, 13.5, 14, 14.5, 15], "title": "2024-08-06 (219)", "titleFontSize": 32, "tickSize": 12, "labelFontSize": {"condition": {"test": "datum.value % 1 == 0", "value": 28}, "value": 16},
             "labelExpr": "datum.value % 1 == 0 ? (datum.value < 10 ? '0' : '') + datum.value + 'h' : '30'",
             "grid": true, "gridColor": "#aaa", "gridDash": {"condition": {"test": "datum.value % 1 == 0", "value": []}, "value": [6, 6]}}},
           "x2": {"field": "b"}}},
        {"data": {"name": "vl"}, "mark": {"type": "rule", "color": "black", "strokeWidth": 1.5},
         "encoding": {"x": {"field": "t", "type": "quantitative"}}},
        {"data": {"name": "p8"}, "mark": {"type": "line", "strokeWidth": 7, "clip": true},
         "encoding": {"x": {"field": "t", "type": "quantitative"},
           "y": {"field": "v", "type": "quantitative", "scale": {"domain": [-5.2, 5.6], "nice": false}, "axis": {"values": [-4, -2, 0, 2, 4], "title": "FEA Temp"}},
           "color": {"field": "s", "type": "nominal", "scale": {"domain": ["2FHTRMZT", "2FRADPYT", "2FEPRATM", "2FE00ATM"], "range": ["#1f77b4", "#ff7f0e", "#2ca02c", "#d62728"]}, "legend": {"orient": "bottom-right", "title": null}}}}
      ]
    }
  ],
  "config": {
    "font": "DejaVu Sans",
    "view": {"stroke": "black", "strokeWidth": 2},
    "axis": {"labelFontSize": 28, "titleFontSize": 28, "titleFontWeight": "normal", "labelColor": "black", "titleColor": "black", "domainColor": "black", "tickColor": "black", "tickWidth": 2, "domainWidth": 2, "tickSize": 12, "labelPadding": 6},
    "axisY": {"grid": false, "titlePadding": 20},
    "legend": {"labelFontSize": 26, "fillColor": "white", "strokeColor": "#ccc", "padding": 12, "cornerRadius": 4, "symbolType": "stroke", "symbolStrokeWidth": 7, "symbolSize": 900, "labelLimit": 400, "rowPadding": 8, "offset": 12}
  }
}
